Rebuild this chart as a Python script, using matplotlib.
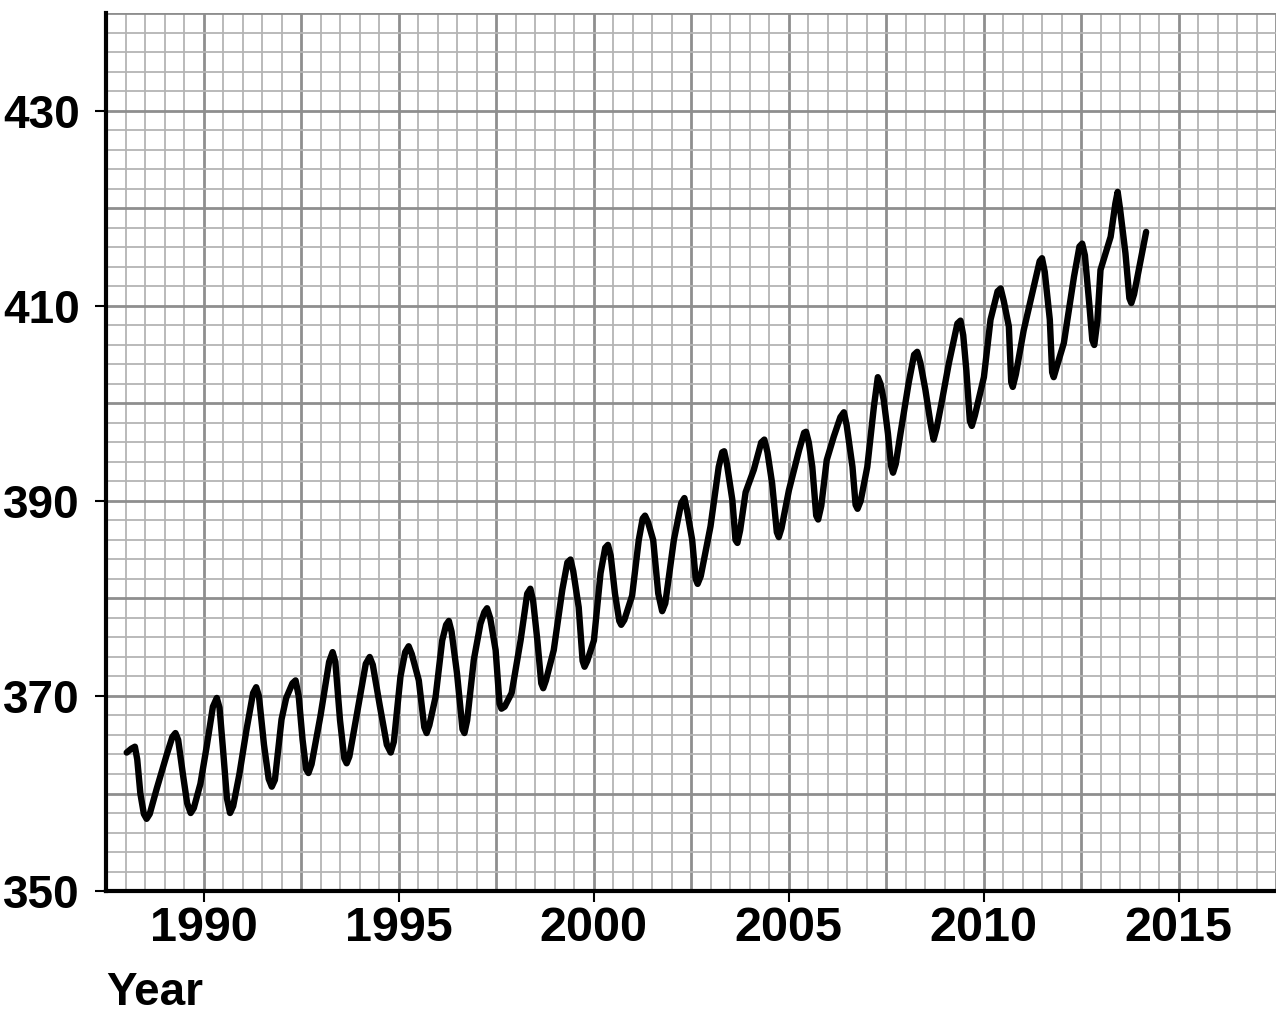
import matplotlib
matplotlib.use("Agg")
import matplotlib.pyplot as plt
import numpy as np

# values (year, CO2 ppm)
years = [
    1988.03, 1988.15, 1988.24, 1988.30, 1988.38, 1988.47, 1988.54, 1988.62, 1988.80,
    1989.05, 1989.20, 1989.28, 1989.35, 1989.47, 1989.58, 1989.67, 1989.75, 1989.92,
    1990.08, 1990.24, 1990.34, 1990.41, 1990.50, 1990.60, 1990.68, 1990.76, 1990.92,
    1991.10, 1991.27, 1991.35, 1991.42, 1991.55, 1991.67, 1991.75, 1991.83,
    1992.00, 1992.12, 1992.28, 1992.36, 1992.44, 1992.54, 1992.63, 1992.69, 1992.77,
    1993.00, 1993.22, 1993.31, 1993.38, 1993.50, 1993.61, 1993.67, 1993.74,
    1993.97, 1994.16, 1994.26, 1994.34, 1994.52, 1994.70, 1994.80, 1994.88,
    1995.05, 1995.17, 1995.26, 1995.34, 1995.52, 1995.66, 1995.72, 1995.79,
    1995.95, 1996.12, 1996.22, 1996.29, 1996.36, 1996.50, 1996.64, 1996.69, 1996.76,
    1996.93, 1997.10, 1997.20, 1997.27, 1997.35, 1997.49, 1997.59, 1997.64, 1997.72,
    1997.90, 1998.13, 1998.30, 1998.38, 1998.45, 1998.56, 1998.66, 1998.71, 1998.78,
    1998.98, 1999.20, 1999.33, 1999.41, 1999.48, 1999.62, 1999.72, 1999.77, 1999.84,
    2000.01, 2000.18, 2000.30, 2000.37, 2000.44, 2000.55, 2000.66, 2000.71, 2000.79,
    2000.99, 2001.16, 2001.26, 2001.32, 2001.40, 2001.53, 2001.66, 2001.76, 2001.84,
    2002.06, 2002.25, 2002.33, 2002.40, 2002.53, 2002.62, 2002.67, 2002.75,
    2003.00, 2003.21, 2003.30, 2003.35, 2003.42, 2003.56, 2003.64, 2003.69, 2003.76,
    2003.90, 2004.11, 2004.30, 2004.38, 2004.46, 2004.58, 2004.70, 2004.75, 2004.82,
    2005.01, 2005.27, 2005.40, 2005.45, 2005.52, 2005.61, 2005.71, 2005.76, 2005.84,
    2005.98, 2006.16, 2006.33, 2006.42, 2006.49, 2006.64, 2006.72, 2006.77, 2006.85,
    2007.02, 2007.19, 2007.29, 2007.36, 2007.44, 2007.55, 2007.63, 2007.68, 2007.75,
    2007.87, 2008.08, 2008.22, 2008.30, 2008.38, 2008.51, 2008.64, 2008.72, 2008.80,
    2008.94, 2009.11, 2009.33, 2009.41, 2009.48, 2009.56, 2009.65, 2009.70, 2009.78,
    2010.01, 2010.18, 2010.36, 2010.44, 2010.52, 2010.65, 2010.71, 2010.75, 2010.83,
    2011.03, 2011.29, 2011.44, 2011.50, 2011.57, 2011.70, 2011.76, 2011.80, 2011.88,
    2012.06, 2012.32, 2012.46, 2012.53, 2012.60, 2012.71, 2012.79, 2012.84, 2012.92,
    2013.00, 2013.26, 2013.38, 2013.44, 2013.50, 2013.64, 2013.74, 2013.79, 2013.86,
    2013.98, 2014.17,
]
co2 = [
    364.2, 364.6, 364.8, 363.5, 360.0, 357.9, 357.4, 357.9, 360.5,
    363.9, 365.8, 366.2, 365.5, 362.0, 359.0, 358.0, 358.5, 361.0,
    364.8, 368.9, 369.8, 368.8, 364.5, 359.5, 358.0, 358.7, 362.0,
    366.5, 370.3, 370.9, 370.0, 365.0, 361.5, 360.7, 361.4,
    367.6, 369.8, 371.3, 371.6, 370.0, 365.5, 362.5, 362.1, 363.0,
    368.0, 373.5, 374.5, 373.5, 367.5, 363.6, 363.1, 363.8,
    369.0, 373.3, 374.0, 373.2, 369.0, 365.0, 364.2, 365.3,
    372.0, 374.5, 375.1, 374.3, 371.6, 366.8, 366.2, 367.0,
    369.9, 375.7, 377.3, 377.7, 376.6, 372.3, 366.6, 366.2, 367.5,
    373.7, 377.4, 378.6, 379.0, 378.0, 374.7, 369.2, 368.7, 368.9,
    370.3, 375.7, 380.5, 381.0, 379.8, 375.7, 371.3, 370.8, 371.6,
    374.7, 380.9, 383.7, 384.0, 382.8, 379.1, 373.6, 373.0, 373.6,
    375.7, 382.6, 385.2, 385.5, 384.4, 380.5, 377.7, 377.3, 377.8,
    380.3, 386.0, 388.2, 388.5, 387.8, 386.0, 380.5, 378.7, 379.5,
    386.0, 389.8, 390.3, 389.0, 386.0, 382.0, 381.5, 382.3,
    387.4, 393.5, 395.0, 395.1, 393.8, 390.1, 386.0, 385.7, 387.0,
    390.9, 393.2, 396.0, 396.3, 395.0, 391.8, 386.8, 386.3, 387.2,
    391.1, 395.2, 397.0, 397.1, 396.0, 393.5, 388.5, 388.1, 389.5,
    394.2, 396.6, 398.6, 399.1, 397.8, 393.5, 389.6, 389.2, 390.0,
    393.5, 399.7, 402.7, 402.0, 400.4, 396.9, 393.6, 392.9, 393.8,
    396.9, 402.1, 405.0, 405.3, 404.2, 401.4, 398.0, 396.3, 397.5,
    400.4, 404.1, 408.2, 408.5, 407.0, 403.4, 398.2, 397.7, 398.8,
    402.7, 408.6, 411.5, 411.8, 410.5, 407.9, 402.2, 401.7, 403.0,
    407.5, 412.0, 414.6, 414.9, 413.5, 408.6, 403.2, 402.7, 403.8,
    406.2, 413.0, 416.1, 416.4, 415.2, 410.3, 406.5, 406.0, 408.5,
    413.7, 417.1, 420.5, 421.7, 420.0, 415.4, 410.8, 410.3, 411.2,
    413.7, 417.6,
]

x_ticks = [1990, 1995, 2000, 2005, 2010, 2015]
y_ticks = [350, 370, 390, 410, 430]

fig = plt.figure(figsize=(12.76, 10.14), dpi=100)
ax = fig.add_axes([0.0831, 0.1213, 0.9169, 0.8654])
ax.set_xlim(1987.5, 2017.5)
ax.set_ylim(350, 440)

# graph paper: light lines every half year / 2 ppm, darker every 2.5 years / 10 ppm
for gx in np.arange(1988.0, 2017.51, 0.5):
    dark = abs(gx / 2.5 - round(gx / 2.5)) < 1e-6
    ax.axvline(gx, color="#8e8e8e" if dark else "#b4b4b4",
               lw=2.0 if dark else 1.3, zorder=1)
for gy in np.arange(352, 440.1, 2):
    dark = gy % 10 == 0
    ax.axhline(gy, color="#8e8e8e" if dark else "#b4b4b4",
               lw=2.0 if dark else 1.3, zorder=1)

ax.plot(years, co2, color="black", lw=4.6, solid_joinstyle="round",
        solid_capstyle="round", zorder=5)

ax.spines["top"].set_visible(False)
ax.spines["right"].set_visible(False)
ax.spines["left"].set_linewidth(3)
ax.spines["bottom"].set_linewidth(3)
ax.spines["left"].set_zorder(6)
ax.spines["bottom"].set_zorder(6)

ax.set_xticks(x_ticks)
ax.set_yticks(y_ticks)
ax.tick_params(axis="both", direction="out", length=8, width=1.5, color="black")
ax.tick_params(axis="x", pad=3, labelsize=35)
ax.tick_params(axis="y", pad=11, labelsize=33)
for lab in ax.get_xticklabels() + ax.get_yticklabels():
    lab.set_fontfamily("Liberation Sans")
    lab.set_fontweight("bold")

fig.text(0.083, 0.009, "Year", ha="left", va="baseline",
         fontfamily="Liberation Sans", fontweight="bold", fontsize=33)

fig.savefig("out.png", dpi=100)
